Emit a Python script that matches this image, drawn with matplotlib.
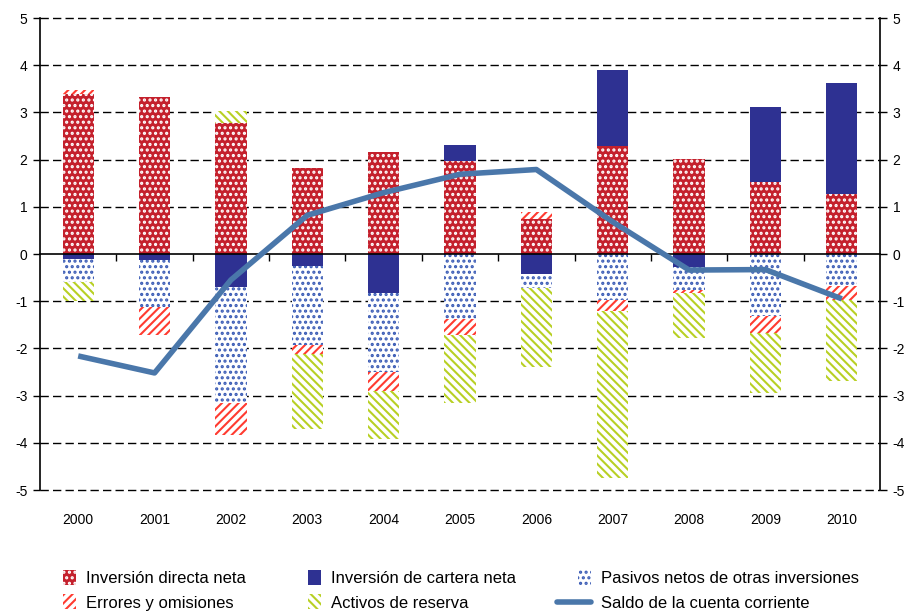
import numpy as np
import matplotlib
matplotlib.use("Agg")
import matplotlib.pyplot as plt
from matplotlib.patches import Patch
from matplotlib.lines import Line2D
from matplotlib.legend_handler import HandlerBase

years = ["2000", "2001", "2002", "2003", "2004", "2005", "2006", "2007", "2008", "2009", "2010"]

# componentes (positivo y negativo se apilan por separado)
directa = [3.40, 3.32, 2.78, 1.83, 2.16, 1.98, 0.74, 2.29, 2.01, 1.53, 1.27]
cartera = [-0.11, -0.13, -0.69, -0.25, -0.82, 0.33, -0.42, 1.61, -0.27, 1.58, 2.35]
pasivos = [-0.48, -1.00, -2.47, -1.68, -1.67, -1.38, -0.31, -0.97, -0.49, -1.31, -0.68]
errores = [0.07, -0.59, -0.67, -0.19, -0.41, -0.34, 0.15, -0.23, -0.07, -0.37, -0.29]
reserva = [-0.40, 0.00, 0.25, -1.59, -1.03, -1.44, -1.66, -3.55, -0.96, -1.27, -1.73]
saldo = [-2.16, -2.52, -0.55, 0.82, 1.30, 1.69, 1.79, 0.68, -0.34, -0.33, -0.95]

plt.rcParams["font.family"] = ["Liberation Sans", "DejaVu Sans"]
plt.rcParams["axes.unicode_minus"] = False
plt.rcParams["hatch.linewidth"] = 1.5

RED = "#C4202C"
NAVY = "#2E3192"
BLUE_DOT = "#3A5BB5"
RED_HATCH = "#FF3B30"
GREEN = "#B8D024"
LINE = "#4A77AA"

styles = {
    "directa": dict(facecolor=RED, edgecolor="white", hatch="..."),
    "cartera": dict(facecolor=NAVY, edgecolor=NAVY),
    "pasivos": dict(facecolor="white", edgecolor=BLUE_DOT, hatch="..."),
    "errores": dict(facecolor="white", edgecolor=RED_HATCH, hatch="////"),
    "reserva": dict(facecolor="white", edgecolor=GREEN, hatch="\\\\\\\\"),
}
series = [(directa, "directa"), (cartera, "cartera"), (pasivos, "pasivos"),
          (errores, "errores"), (reserva, "reserva")]


class LongLineHandler(HandlerBase):
    # la linea de la leyenda es mas larga que los cuadritos
    def create_artists(self, legend, orig_handle, xdescent, ydescent, width, height, fontsize, trans):
        y = height / 2 - ydescent
        ln = Line2D([-xdescent - width * 1.6, -xdescent + width], [y, y],
                    color=orig_handle.get_color(), lw=orig_handle.get_linewidth(),
                    solid_capstyle="round", transform=trans)
        return [ln]


fig = plt.figure(figsize=(9.08, 6.11), dpi=100)
ax = fig.add_axes([40 / 908, 1 - 490 / 611, 840 / 908, 472 / 611])

x = np.arange(len(years))
w = 0.41
pos_base = np.zeros(len(years))
neg_base = np.zeros(len(years))
for vals, key in series:
    v = np.array(vals)
    bottoms = np.where(v >= 0, pos_base, neg_base)
    ax.bar(x, v, w, bottom=bottoms, linewidth=0, zorder=2, **styles[key])
    pos_base += np.where(v >= 0, v, 0)
    neg_base += np.where(v < 0, v, 0)

ax.plot(x, saldo, color=LINE, lw=4, zorder=3, solid_capstyle="butt")

ax.set_xlim(-0.5, len(years) - 0.5)
ax.set_ylim(-5, 5)
ax.set_yticks(range(-5, 6))
for yv in range(-5, 6):
    if yv != 0:
        ax.axhline(yv, color="black", lw=1, ls=(0, (6, 3)), zorder=1, clip_on=False)

ax.spines["top"].set_visible(False)
ax.spines["bottom"].set_position(("data", 0))
ax.spines["bottom"].set_linewidth(1.2)
ax.spines["left"].set_linewidth(1.2)
ax.spines["right"].set_linewidth(1.2)

ax.set_xticks([])
ax.set_xticks(np.arange(0.5, len(years) - 0.5, 1), minor=True)
ax.tick_params(axis="x", which="minor", length=5, direction="out", width=1)
for i, yr in enumerate(years):
    ax.text(i, -0.063, yr, transform=ax.get_xaxis_transform(),
            ha="center", va="center", fontsize=10)

ax.tick_params(axis="y", labelsize=10, length=5, width=1, direction="out",
               left=True, right=True, labelright=True, pad=4)

handles = [
    Patch(label="Inversión directa neta", lw=0, **styles["directa"]),
    Patch(label="Errores y omisiones", lw=0, **styles["errores"]),
    Patch(label="Inversión de cartera neta", lw=0, **styles["cartera"]),
    Patch(label="Activos de reserva", lw=0, **styles["reserva"]),
    Patch(label="Pasivos netos de otras inversiones", lw=0, **styles["pasivos"]),
    Line2D([0], [0], color=LINE, lw=4, label="Saldo de la cuenta corriente"),
]
fig.legend(handles=handles, ncol=3, loc="lower left", bbox_to_anchor=(48 / 908, -0.024),
           frameon=False, fontsize=12, handlelength=0.8, handleheight=1.0,
           handletextpad=0.6, columnspacing=3.7, labelspacing=0.5,
           handler_map={Line2D: LongLineHandler()})

fig.savefig("out.png", dpi=100)
